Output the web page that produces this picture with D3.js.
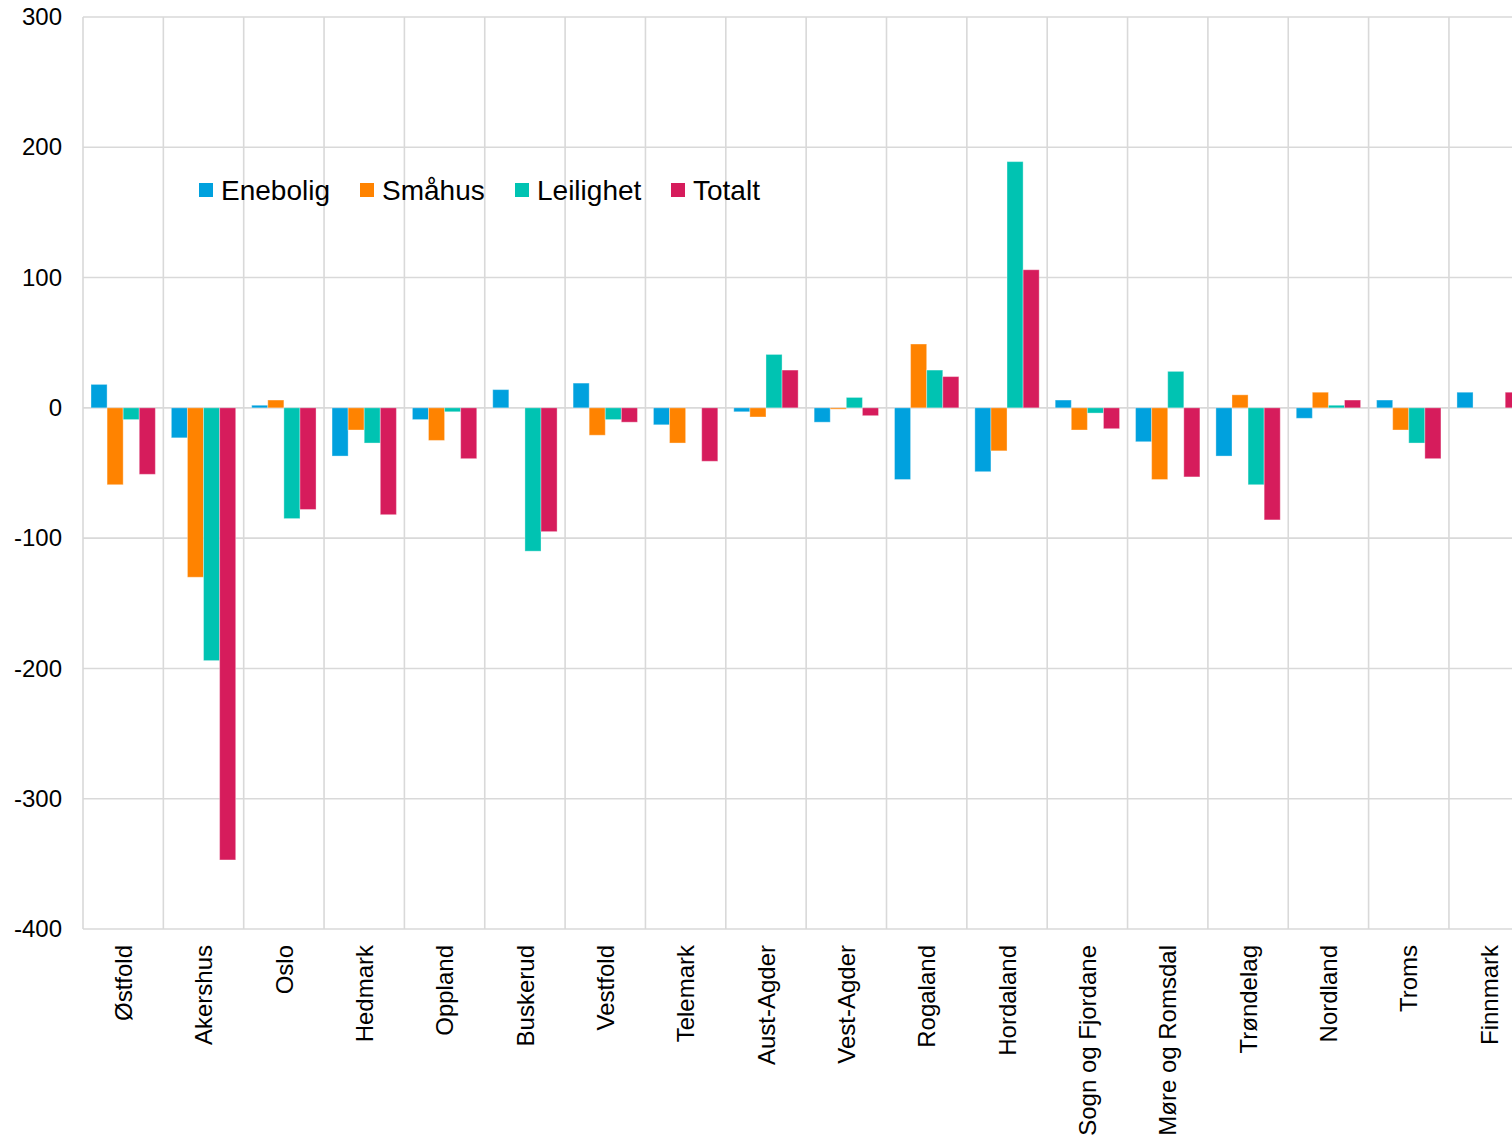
<!DOCTYPE html>
<html>
<head>
<meta charset="utf-8">
<title>Endring per fylke</title>
<script src="https://d3js.org/d3.v7.min.js"></script>
<style>
  html, body { margin: 0; padding: 0; background: #fff; overflow: hidden; }
  text { font-family: "Liberation Sans", Arial, sans-serif; fill: #000; }
</style>
</head>
<body>
<div id="chart"></div>
<script>
// data
var fylker = ["Østfold", "Akershus", "Oslo", "Hedmark", "Oppland", "Buskerud", "Vestfold",
  "Telemark", "Aust-Agder", "Vest-Agder", "Rogaland", "Hordaland", "Sogn og Fjordane",
  "Møre og Romsdal", "Trøndelag", "Nordland", "Troms", "Finnmark"];
var seriesNames = ["Enebolig", "Småhus", "Leilighet", "Totalt"];
var enebolig  = [18, -23, 2, -37, -9, 14, 19, -13, -3, -11, -55, -49, 6, -26, -37, -8, 6, 12];
var smahus    = [-59, -130, 6, -17, -25, 0, -21, -27, -7, -1, 49, -33, -17, -55, 10, 12, -17, 0];
var leilighet = [-9, -194, -85, -27, -3, -110, -9, 0, 41, 8, 29, 189, -4, 28, -59, 2, -27, 0];
var totalt    = [-51, -347, -78, -82, -39, -95, -11, -41, 29, -6, 24, 106, -16, -53, -86, 6, -39, 12];
var yTicks = [300, 200, 100, 0, -100, -200, -300, -400];
var colors = ["#00a1de", "#ff8300", "#00c3b2", "#d61c5c"];

var W = 1512, H = 1140;
var plotLeft = 83, plotTop = 17, plotBottom = 929;
var catW = 80.35;

var values = [enebolig, smahus, leilighet, totalt];
var rows = fylker.map(function(f, i) {
  return { fylke: f, vals: seriesNames.map(function(s, j) { return { key: s, value: values[j][i] }; }) };
});

var svg = d3.select("#chart").append("svg")
  .attr("width", W).attr("height", H);

var x = d3.scaleBand().domain(fylker)
  .range([plotLeft, plotLeft + catW * fylker.length]).padding(0);
var x1 = d3.scaleBand().domain(seriesNames)
  .range([8, catW - 8]).padding(0);
var y = d3.scaleLinear().domain([-400, 300]).range([plotBottom, plotTop]);
var color = d3.scaleOrdinal().domain(seriesNames).range(colors);

// horizontal grid
svg.append("g").selectAll("line").data(yTicks).enter().append("line")
  .attr("x1", plotLeft).attr("x2", W + 40)
  .attr("y1", function(d) { return y(d); }).attr("y2", function(d) { return y(d); })
  .attr("stroke", "#d9d9d9").attr("stroke-width", 1.6);

// vertical grid at category boundaries
svg.append("g").selectAll("line").data(fylker).enter().append("line")
  .attr("x1", function(d) { return x(d); }).attr("x2", function(d) { return x(d); })
  .attr("y1", plotTop).attr("y2", plotBottom)
  .attr("stroke", "#d9d9d9").attr("stroke-width", 1.6);

// y axis labels (plain hyphen for negatives, as in the original)
var yAxis = d3.axisLeft(y).tickValues(yTicks).tickSize(0).tickPadding(21)
  .tickFormat(function(d) { return String(d); });
svg.append("g").attr("transform", "translate(" + plotLeft + ",0)").call(yAxis)
  .call(function(g) { g.select(".domain").remove(); })
  .selectAll("text").style("font-size", "24px").attr("fill", "#000");

// bars
var groups = svg.append("g").selectAll("g").data(rows).enter().append("g")
  .attr("transform", function(d) { return "translate(" + x(d.fylke) + ",0)"; });
groups.selectAll("rect").data(function(d) { return d.vals; }).enter().append("rect")
  .attr("x", function(d) { return x1(d.key); })
  .attr("width", x1.bandwidth())
  .attr("y", function(d) { return y(Math.max(0, d.value)); })
  .attr("height", function(d) { return Math.abs(y(d.value) - y(0)); })
  .attr("fill", function(d) { return color(d.key); })
  .attr("stroke", "#fff").attr("stroke-opacity", 0.35).attr("stroke-width", 1);

// category labels, rotated
var xAxis = d3.axisBottom(x).tickSize(0).tickPadding(0);
var gx = svg.append("g").attr("transform", "translate(0," + plotBottom + ")").call(xAxis);
gx.select(".domain").remove();
gx.selectAll("text")
  .style("font-size", "24px").attr("fill", "#000")
  .attr("text-anchor", "end")
  .attr("transform", "rotate(-90)")
  .attr("x", -16).attr("y", 0).attr("dy", "0.36em");

// legend
var legendX = [199, 360, 515, 671];
var legend = svg.append("g").selectAll("g").data(seriesNames).enter().append("g")
  .attr("transform", function(d, i) { return "translate(" + legendX[i] + ",183)"; });
legend.append("rect").attr("width", 14).attr("height", 14)
  .attr("fill", function(d) { return color(d); });
legend.append("text").attr("x", 22).attr("y", 17)
  .style("font-size", "28px").text(function(d) { return d; });
</script>
</body>
</html>
